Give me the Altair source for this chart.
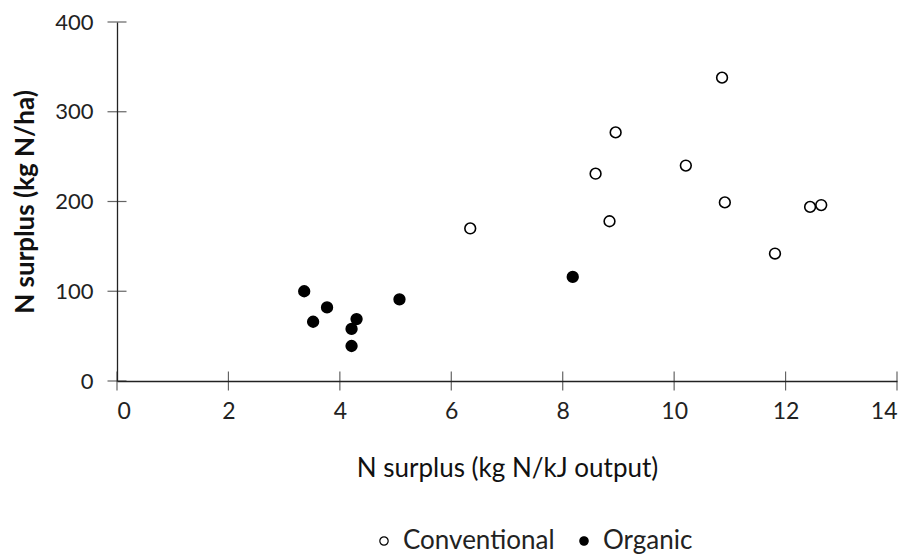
import altair as alt
import pandas as pd

conv_x = [6.34, 8.59, 8.95, 8.84, 10.21, 10.86, 10.91, 11.81, 12.44, 12.64]
conv_y = [170, 231, 277, 178, 240, 338, 199, 142, 194, 196]
org_x = [3.36, 3.52, 3.77, 4.21, 4.21, 4.30, 5.07, 8.18]
org_y = [100, 66, 82, 58, 39, 69, 91, 116]
x_ticks = [0, 2, 4, 6, 8, 10, 12, 14]
y_ticks = [0, 100, 200, 300, 400]

df = pd.DataFrame(
    {"x": conv_x + org_x, "y": conv_y + org_y,
     "system": ["Conventional"] * len(conv_x) + ["Organic"] * len(org_x)}
)

W, H = 780, 359
FONT = "Lato"

xs = alt.Scale(domain=[0, 14], nice=False)
ys = alt.Scale(domain=[0, 400], nice=False)

points = alt.Chart(df).mark_point(filled=True, size=115, strokeWidth=1.6, opacity=1).encode(
    x=alt.X("x:Q", scale=xs, title="N surplus (kg N/kJ output)",
            axis=alt.Axis(values=x_ticks, format="d", grid=False, ticks=False, domainColor="#222",
                          labelPadding=19, labelFontSize=23, titleY=87, titleBaseline="middle")),
    y=alt.Y("y:Q", scale=ys, title="N surplus (kg N/ha)",
            axis=alt.Axis(values=y_ticks, grid=False, ticks=False, domainColor="#222",
                          labelPadding=24, labelFontSize=22, titleX=-92, titleBaseline="middle",
                          titleFontWeight="bold")),
    fill=alt.Fill("system:N", scale=alt.Scale(domain=["Conventional", "Organic"], range=["white", "black"]),
                  legend=alt.Legend(title=None, orient="none", direction="horizontal",
                                    legendX=254, legendY=506, symbolSize=70, symbolStrokeWidth=1.2,
                                    labelFontSize=26, labelFont=FONT, labelColor="#222",
                                    labelOffset=6, columnPadding=16, symbolStrokeColor="black")),
    stroke=alt.value("black"),
)

xt = pd.DataFrame({"t": x_ticks})
yt = pd.DataFrame({"t": y_ticks})
xin = alt.Chart(xt).mark_tick(color="#222", thickness=1.2, size=19, orient="vertical").encode(
    x=alt.X("t:Q", scale=xs), y=alt.value(H))
yin = alt.Chart(yt).mark_tick(color="#222", thickness=1.2, size=19, orient="horizontal").encode(
    y=alt.Y("t:Q", scale=ys), x=alt.value(0))

chart = alt.layer(points, xin, yin).properties(
    width=W, height=H, autosize=alt.AutoSizeParams(type="none"),
    padding={"left": 109, "top": 14, "right": 10, "bottom": 180},
).configure_view(stroke=None).configure_axis(
    labelFont=FONT, titleFont=FONT, titleFontSize=26,
    labelColor="#222", titleColor="#111", titleFontWeight="normal", domainWidth=1.3
)

chart.save("out.html", embed_options={"renderer": "svg", "actions": False})
